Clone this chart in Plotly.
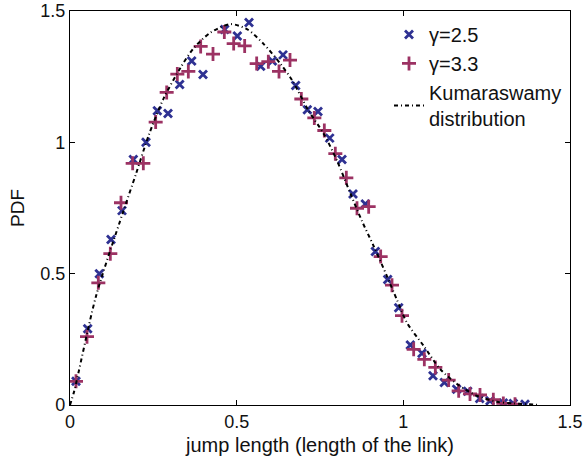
import plotly.graph_objects as go

# gamma = 2.5 (blue x)
x_g25 = [0.018, 0.053, 0.088, 0.123, 0.156, 0.19, 0.228, 0.262, 0.294, 0.329, 0.365, 0.399,
         0.464, 0.502, 0.537, 0.572, 0.607, 0.639, 0.677, 0.712, 0.744, 0.779, 0.816, 0.849,
         0.886, 0.916, 0.953, 0.986, 1.021, 1.056, 1.089, 1.123, 1.16, 1.193, 1.229, 1.26,
         1.30, 1.33, 1.365]
y_g25 = [0.09, 0.29, 0.50, 0.63, 0.74, 0.935, 1.0, 1.12, 1.11, 1.22, 1.31, 1.258,
         1.43, 1.405, 1.456, 1.29, 1.31, 1.333, 1.216, 1.124, 1.117, 1.016, 0.935, 0.803,
         0.765, 0.584, 0.478, 0.37, 0.228, 0.197, 0.111, 0.086, 0.06, 0.052, 0.025, 0.016,
         0.008, 0.006, 0.003]

# gamma = 3.3 (red +)
x_g33 = [0.018, 0.051, 0.085, 0.121, 0.153, 0.188, 0.22, 0.257, 0.29, 0.322, 0.355, 0.392,
         0.429, 0.463, 0.491, 0.524, 0.56, 0.595, 0.627, 0.66, 0.694, 0.733, 0.763, 0.796,
         0.829, 0.861, 0.896, 0.932, 0.966, 0.996, 1.031, 1.063, 1.096, 1.136, 1.166, 1.20,
         1.23, 1.27, 1.30, 1.335]
y_g33 = [0.09, 0.26, 0.465, 0.576, 0.77, 0.92, 0.92, 1.077, 1.19, 1.26, 1.27, 1.365,
         1.336, 1.42, 1.376, 1.367, 1.30, 1.307, 1.27, 1.313, 1.165, 1.093, 1.045, 0.957,
         0.865, 0.749, 0.755, 0.565, 0.456, 0.34, 0.212, 0.174, 0.143, 0.095, 0.054, 0.042,
         0.038, 0.02, 0.006, 0.003]

# Kumaraswamy curve
x_kum = [0.0, 0.012, 0.078, 0.158, 0.198, 0.237, 0.282, 0.332, 0.372, 0.422, 0.482, 0.532,
         0.582, 0.632, 0.667, 0.716, 0.761, 0.801, 0.841, 0.876, 0.911, 0.951, 0.981, 1.011,
         1.061, 1.111, 1.161, 1.221, 1.281, 1.33, 1.39, 1.41]
y_kum = [0.0, 0.05, 0.414, 0.73, 0.88, 1.03, 1.17, 1.285, 1.36, 1.418, 1.45, 1.43,
         1.373, 1.298, 1.235, 1.12, 1.033, 0.93, 0.806, 0.70, 0.605, 0.49, 0.40, 0.313,
         0.225, 0.136, 0.08, 0.035, 0.0125, 0.006, 0.002, 0.0]

ticks = [0, 0.5, 1, 1.5]
tick_text = ["0", "0.5", "1", "1.5"]

FONT = "Liberation Sans, Arial, Helvetica, sans-serif"
BLUE = "#2e3192"
RED = "#9c3263"

fig = go.Figure()
fig.add_trace(go.Scatter(
    x=x_g25, y=y_g25, mode="markers", name="γ=2.5",
    marker=dict(symbol="x-thin", size=8, color=BLUE,
                line=dict(width=2.8, color=BLUE))))
fig.add_trace(go.Scatter(
    x=x_g33, y=y_g33, mode="markers", name="γ=3.3",
    marker=dict(symbol="cross-thin", size=10, color=RED,
                line=dict(width=2.8, color=RED))))
fig.add_trace(go.Scatter(
    x=x_kum, y=y_kum, mode="lines", name="Kumaraswamy<br>distribution",
    line=dict(color="black", width=2, dash="4px,3px,1px,3px",
              shape="spline", smoothing=0.8)))

axis_common = dict(
    range=[0, 1.5], tickvals=ticks, ticktext=tick_text, ticks="inside", ticklen=5,
    tickcolor="black", showline=True, linecolor="black", linewidth=1.2, mirror="ticks",
    showgrid=False, zeroline=False, automargin=False,
    tickfont=dict(family=FONT, size=18, color="#111"),
)

fig.update_layout(
    width=584, height=456,
    margin=dict(l=70, r=14, t=11, b=51),
    paper_bgcolor="white", plot_bgcolor="white",
    font=dict(family=FONT, size=20, color="#111"),
    xaxis=dict(**axis_common,
               title=dict(text="jump length (length of the link)", standoff=8,
                          font=dict(size=20))),
    yaxis=dict(**axis_common,
               title=dict(text="PDF", standoff=10, font=dict(size=19))),
    legend=dict(x=0.638, y=0.99, xanchor="left", yanchor="top",
                bgcolor="rgba(0,0,0,0)", borderwidth=0,
                font=dict(size=20), tracegroupgap=0, itemwidth=30),
    showlegend=True,
)

fig.write_html("out.html")
